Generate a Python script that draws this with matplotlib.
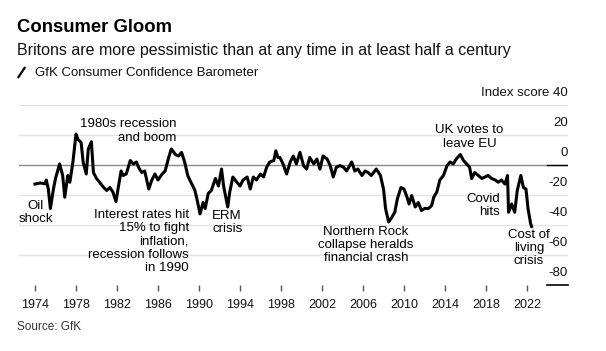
import matplotlib.pyplot as plt

plt.rcParams['font.family'] = ['Liberation Sans', 'DejaVu Sans']

# GfK consumer confidence (decimal year, index score)
years = [
    1974.0, 1974.5, 1975.0, 1975.1, 1975.3, 1975.5, 1975.8, 1976.0, 1976.4, 1976.7,
    1976.9, 1977.2, 1977.4, 1977.7, 1978.0, 1978.2, 1978.5, 1978.7, 1979.0, 1979.2,
    1979.5, 1979.7, 1980.0, 1980.3, 1980.7, 1981.0, 1981.3, 1981.6, 1981.9, 1982.1,
    1982.4, 1982.6, 1982.9, 1983.3, 1983.6, 1983.9, 1984.1, 1984.4, 1984.7, 1985.1,
    1985.4, 1985.7, 1986.0, 1986.4, 1986.7, 1987.0, 1987.3, 1987.7, 1988.0, 1988.3,
    1988.6, 1988.9, 1989.1, 1989.4, 1989.6, 1989.8, 1990.1, 1990.4, 1990.6, 1990.9,
    1991.2, 1991.6, 1991.9, 1992.2, 1992.4, 1992.8, 1993.0, 1993.3, 1993.7, 1994.0,
    1994.3, 1994.7, 1995.0, 1995.3, 1995.6, 1996.0, 1996.3, 1996.6, 1996.9, 1997.3,
    1997.5, 1997.7, 1997.9, 1998.2, 1998.55, 1998.9, 1999.2, 1999.5, 1999.85, 2000.2,
    2000.5, 2000.8, 2001.2, 2001.5, 2001.8, 2002.1, 2002.5, 2002.8, 2003.1, 2003.4,
    2003.75, 2004.1, 2004.4, 2004.9, 2005.2, 2005.5, 2005.9, 2006.2, 2006.5, 2006.8,
    2007.3, 2007.7, 2008.0, 2008.2, 2008.5, 2008.8, 2009.1, 2009.35, 2009.7, 2010.0,
    2010.3, 2010.5, 2010.75, 2011.1, 2011.4, 2011.7, 2012.0, 2012.4, 2012.7, 2012.9,
    2013.2, 2013.5, 2013.85, 2014.2, 2014.5, 2014.8, 2015.1, 2015.5, 2015.8, 2016.1,
    2016.4, 2016.6, 2016.9, 2017.25, 2017.6, 2017.9, 2018.2, 2018.55, 2018.9, 2019.2,
    2019.5, 2019.85, 2020.1, 2020.2, 2020.5, 2020.8, 2021.05, 2021.4, 2021.65, 2021.9,
    2022.1, 2022.35, 2022.45,
]
scores = [
    -12.7, -12, -12.5, -10, -16, -29, -16, -9, 0.7, -7,
    -21.5, -7, -11.5, 2, 20.6, 17, 15, 1.8, -6, 10.7,
    15.5, -5, -9, -11.5, -15, -17, -15, -18, -24.4, -16,
    -4, -7, -6, 3, 0.7, 2, -1.5, -5, -4, -16,
    -10, -6, -10, -6, -4, 4, 10.7, 7, 6, 8.4,
    2, -7, -10, -14, -17, -22.7, -32.6, -25, -29, -19,
    -17, -9, -14, -2.7, -14, -28, -18, -8, -11.5, -14,
    -10, -8, -16, -8, -10, -6, -8, -1.5, 2, 3,
    9.5, 5, 5, 0.7, -6, 2, 6, 0.7, 8.4, -0.4,
    -2.7, 5, 0.7, 4, -2.7, 6, 4, -0.4, -8, -1.5,
    -0.4, -1.5, -4, 2, -4, -2.7, -7, -4, -5, -7,
    -2.7, -7, -16, -29, -38, -35, -31.5, -22.7, -15, -16,
    -21.5, -26, -20.4, -28, -25, -30.4, -29, -29, -27, -21.5,
    -18, -10, -7, -0.4, 2, 0.7, 4, 7, 3, 0.7,
    -1.5, -9, -5, -7, -9, -8, -7, -9, -10, -11.5,
    -10, -12.7, -7, -31.5, -26, -31.5, -17, -7, -15, -16,
    -29, -39, -41,
]

tick_years = list(range(1974, 2023, 4))
grid_values = [40, 20, 0, -20, -40, -60, -80]
grid_labels = ['Index score 40', '20', '0', '-20', '-40', '-60', '-80']

# annotation text, anchor (year, score), alignment
notes = [
    ('Oil\nshock', 1974.05, -23.3, 'center'),
    ('1980s recession\nand boom', 1987.76, 31.2, 'right'),
    ('Interest rates hit\n15% to fight\ninflation,\nrecession follows\nin 1990', 1989.02, -29.2, 'right'),
    ('ERM\ncrisis', 1991.27, -29.9, 'left'),
    ('Northern Rock\ncollapse heralds\nfinancial crash', 2006.3, -40.5, 'center'),
    ('UK votes to\nleave EU', 2016.4, 27.2, 'center'),
    ('Covid\nhits', 2019.37, -18.6, 'right'),
    ('Cost of\nliving\ncrisis', 2022.2, -42.5, 'center'),
]

W, H = 606, 351
fig = plt.figure(figsize=(W / 100, H / 100), dpi=100)
ax = fig.add_axes([19 / W, 66 / H, 549 / W, 180 / H])

x0 = 1974 - 16 / 10.25
ax.set_xlim(x0, x0 + 549 / 10.25)
ax.set_ylim(-80, 40)

for v in grid_values[:-1]:
    if v == 0:
        ax.axhline(0, color='#8a8a8a', lw=1.0, zorder=1)
    else:
        ax.axhline(v, color='#e3e3e3', lw=1.0, zorder=1)
# short dark rules under the label column
lab_frac = (547 - 19) / 549
ax.axhline(0, xmin=lab_frac, xmax=1, color='black', lw=1.0, zorder=2)
ax.axhline(-80, xmin=lab_frac, xmax=1, color='black', lw=1.2, zorder=2, clip_on=False)

for v, lab in zip(grid_values, grid_labels):
    ax.text(1.0, v + 3.8, lab, transform=ax.get_yaxis_transform(), ha='right', va='bottom',
            fontsize=9.5, color='#111111')

ax.plot(years, scores, color='black', lw=2.2, solid_joinstyle='round', zorder=3)

for txt, xv, yv, al in notes:
    ax.text(xv, yv, txt, ha=al, va='top', multialignment=al, fontsize=9.5,
            color='black', linespacing=1.15, zorder=4)

ax.set_xticks(tick_years)
ax.set_xticklabels([str(y) for y in tick_years])
ax.set_yticks([])
ax.tick_params(axis='x', length=4, width=1, color='#555555', pad=6, labelsize=9, labelcolor='#111111')
for s in ax.spines.values():
    s.set_visible(False)

fig.text(17 / W, 1 - 27.5 / H, 'Consumer Gloom', fontsize=13.3, fontweight='bold', va='center', ha='left')
fig.text(17 / W, 1 - 50 / H, 'Britons are more pessimistic than at any time in at least half a century',
         fontsize=11.5, va='center', ha='left', color='#111111')
fig.add_artist(plt.Line2D([18.5 / W, 24.5 / W], [1 - 77 / H, 1 - 68 / H], color='black', lw=1.6))
fig.text(35 / W, 1 - 72.5 / H, 'GfK Consumer Confidence Barometer', fontsize=9.5, va='center', ha='left',
         color='#111111')
fig.text(17 / W, 1 - 327 / H, 'Source: GfK', fontsize=8.5, va='center', ha='left', color='#333333')

fig.savefig('out.png', dpi=100)
